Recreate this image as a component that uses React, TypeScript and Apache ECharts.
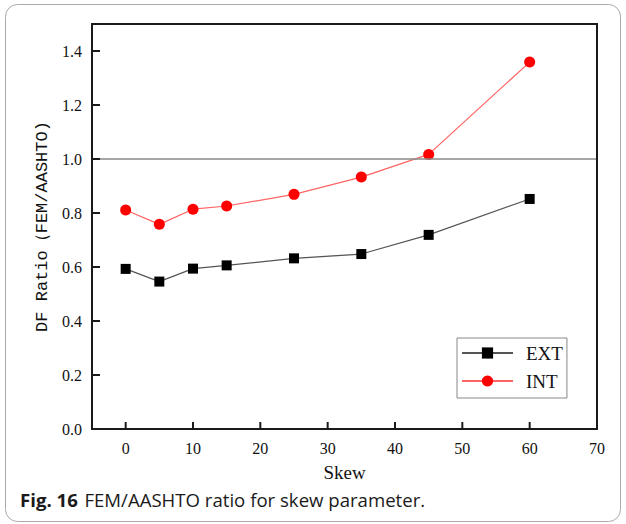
import React, { useEffect, useRef } from "react";
import * as echarts from "echarts";

const skew = [0, 5, 10, 15, 25, 35, 45, 60];
const extValues = [0.593, 0.546, 0.594, 0.606, 0.632, 0.648, 0.719, 0.852];
const intValues = [0.811, 0.758, 0.814, 0.826, 0.869, 0.933, 1.017, 1.359];
const xTicks = [0, 10, 20, 30, 40, 50, 60, 70];
const yTicks = [0, 0.2, 0.4, 0.6, 0.8, 1.0, 1.2, 1.4];
const xRange = [-5, 70];
const yRange = [0, 1.5];
const refLine = 1.0;
const seriesNames = ["EXT", "INT"];

export default function App() {
  const ref = useRef<HTMLDivElement>(null);
  useEffect(() => {
    document.body.style.margin = "0";
    const chart = echarts.init(ref.current!, null, { renderer: "svg" });
    const serif = "Liberation Serif";
    chart.setOption({
      animation: false,
      backgroundColor: "#ffffff",
      textStyle: { fontFamily: serif },
      grid: {
        left: 92,
        right: 29,
        top: 24,
        bottom: 95,
        show: false,
      },
      xAxis: {
        type: "value",
        min: xRange[0],
        max: xRange[1],
        name: "Skew",
        nameLocation: "middle",
        nameGap: 34,
        nameTextStyle: { fontFamily: serif, fontSize: 19, color: "#111" },
        axisLine: { show: false, onZero: false },
        axisTick: { show: false },
        axisLabel: {
          customValues: xTicks,
          fontFamily: serif,
          fontSize: 16,
          color: "#111",
          margin: 11,
        },
        splitLine: { show: false },
      },
      yAxis: {
        type: "value",
        min: yRange[0],
        max: yRange[1],
        name: "DF Ratio（FEM/AASHTO)",
        nameLocation: "middle",
        nameGap: 40,
        nameRotate: 90,
        nameTextStyle: {
          fontFamily: "Liberation Mono",
          fontSize: 17,
          color: "#111",
        },
        axisLine: { show: false, onZero: false },
        axisTick: { show: false },
        axisLabel: {
          customValues: yTicks,
          formatter: (v: number) => v.toFixed(1),
          fontFamily: serif,
          fontSize: 16,
          color: "#111",
          margin: 10,
        },
        splitLine: { show: false },
      },
      legend: {
        orient: "vertical",
        left: 457,
        top: 338,
        data: seriesNames,
        itemWidth: 51,
        itemHeight: 14,
        itemGap: 8,
        padding: [5, 4, 7, 4],
        borderColor: "#888",
        borderWidth: 1,
        backgroundColor: "#fff",
        textStyle: {
          fontFamily: serif,
          fontSize: 19,
          lineHeight: 20,
          color: "#111",
          padding: [0, 0, 0, 8],
        },
      },
      series: [
        {
          name: seriesNames[0],
          type: "line",
          data: skew.map((x, i) => [x, extValues[i]]),
          symbol: "rect",
          symbolSize: 10,
          itemStyle: { color: "#000" },
          lineStyle: { color: "#555", width: 1.2 },
          markLine: {
            silent: true,
            symbol: "none",
            label: { show: false },
            lineStyle: { color: "#888", width: 1.5, type: "solid" },
            data: [{ yAxis: refLine }],
          },
          z: 3,
        },
        {
          name: seriesNames[1],
          type: "line",
          data: skew.map((x, i) => [x, intValues[i]]),
          symbol: "circle",
          symbolSize: 11,
          itemStyle: { color: "#ff0000" },
          lineStyle: { color: "#ff6464", width: 1.2 },
          z: 4,
        },
      ],
      graphic: [
        {
          id: "card",
          type: "rect",
          shape: { x: 5.5, y: 4.5, width: 615, height: 517, r: 12 },
          style: { fill: "none", stroke: "#aaa", lineWidth: 1 },
          silent: true,
          z: -1,
        },
        {
          id: "caption",
          type: "text",
          left: 20,
          top: 490,
          style: {
            text: "{b|Fig. 16}  {r|FEM/AASHTO ratio for skew parameter.}",
            rich: {
              b: {
                fontFamily: "Open Sans",
                fontSize: 18.6,
                fontWeight: "bold",
                fill: "#1a1a1a",
              },
              r: {
                fontFamily: "Open Sans",
                fontSize: 18.6,
                fill: "#1a1a1a",
              },
            },
          },
        },
      ],
    });

    // Frame and inward ticks, positioned through the chart's own scales
    const lo = chart.convertToPixel({ gridIndex: 0 }, [xRange[0], yRange[0]]) as number[];
    const hi = chart.convertToPixel({ gridIndex: 0 }, [xRange[1], yRange[1]]) as number[];
    const mk = (id: string, x1: number, y1: number, x2: number, y2: number, w: number) => ({
      id,
      type: "line",
      shape: { x1, y1, x2, y2 },
      style: { stroke: "#1a1a1a", lineWidth: w },
      silent: true,
      z: 100,
    });
    const extra: any[] = [
      mk("fl", lo[0], hi[1] - 1, lo[0], lo[1] + 1, 2),
      mk("fr", hi[0], hi[1] - 1, hi[0], lo[1] + 1, 2),
      mk("ft", lo[0], hi[1], hi[0], hi[1], 2),
      mk("fb", lo[0], lo[1], hi[0], lo[1], 2),
    ];
    xTicks.forEach((v, i) => {
      const px = chart.convertToPixel({ xAxisIndex: 0 }, v) as number;
      extra.push(mk("xt" + i, px, lo[1], px, lo[1] - 7, 2));
    });
    yTicks.forEach((v, i) => {
      const py = chart.convertToPixel({ yAxisIndex: 0 }, v) as number;
      extra.push(mk("yt" + i, lo[0], py, lo[0] + 8, py, 2));
    });
    chart.setOption({ graphic: extra });

    return () => chart.dispose();
  }, []);
  return (
    <div
      ref={ref}
      style={{ position: "absolute", left: 0, top: 0, width: 626, height: 524 }}
    />
  );
}
